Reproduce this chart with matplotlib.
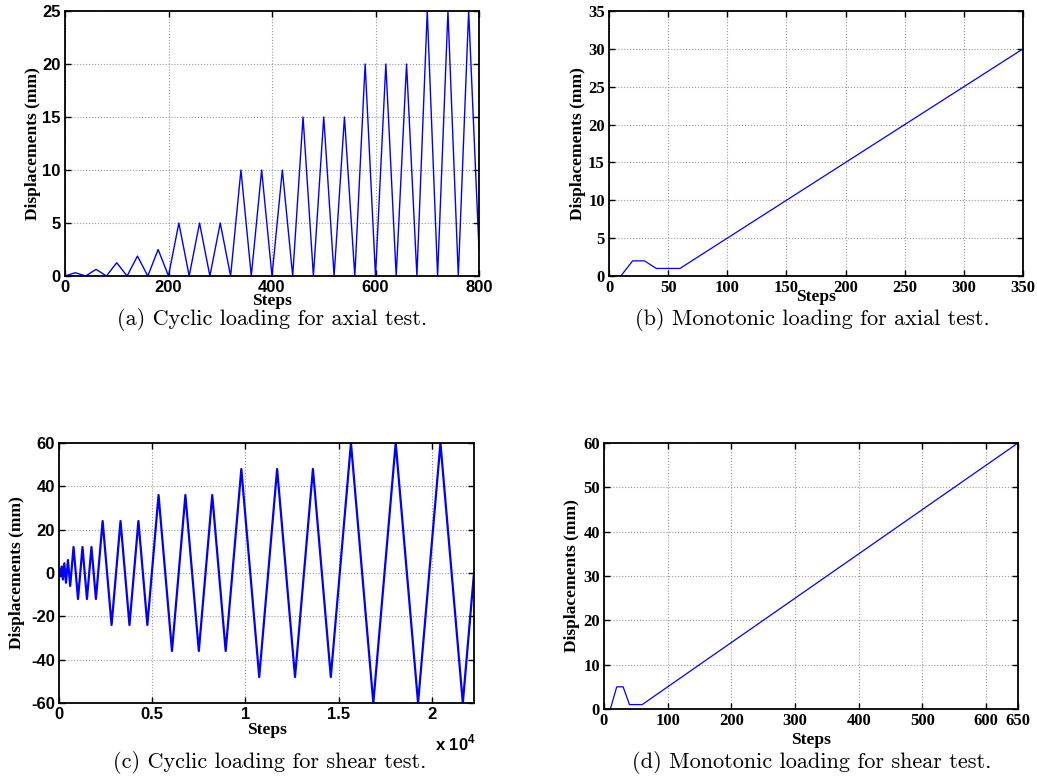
import matplotlib
matplotlib.use("Agg")
import matplotlib.pyplot as plt
from matplotlib.ticker import FuncFormatter

# (a) cyclic axial loading: peaks between returns to zero
axial_cyc_steps = [0, 20, 40, 60, 80, 100, 120, 140, 160, 180, 200, 220, 240, 260, 280,
                   300, 320, 340, 360, 380, 400, 420, 440, 460, 480, 500, 520, 540, 560,
                   580, 600, 620, 640, 660, 680, 700, 720, 740, 760, 780, 800]
axial_cyc_disp = [0, 0.31, 0, 0.63, 0, 1.25, 0, 1.88, 0, 2.5, 0, 5, 0, 5, 0,
                  5, 0, 10, 0, 10, 0, 10, 0, 15, 0, 15, 0, 15, 0,
                  20, 0, 20, 0, 20, 0, 25, 0, 25, 0, 25, 2.5]

# (b) monotonic axial loading
axial_mono_steps = [0, 10, 20, 30, 40, 60, 350]
axial_mono_disp = [0, 0, 2, 2, 1, 1, 30]

# (c) cyclic shear loading (turning points)
shear_cyc_steps = [0, 15, 45, 75, 105, 150, 210, 285, 375, 480, 600,
                   780, 1020, 1260, 1500, 1740, 1980,
                   2340, 2820, 3300, 3780, 4260, 4740,
                   5340, 6060, 6780, 7500, 8220, 8940,
                   9780, 10740, 11700, 12660, 13620, 14580,
                   15660, 16860, 18060, 19260, 20460, 21660, 22260]
shear_cyc_disp = [0, 1.5, -1.5, 1.5, -1.5, 3, -3, 4.5, -4.5, 6, -6,
                  12, -12, 12, -12, 12, -12,
                  24, -24, 24, -24, 24, -24,
                  36, -36, 36, -36, 36, -36,
                  48, -48, 48, -48, 48, -48,
                  60, -60, 60, -60, 60, -60, 0]

# (d) monotonic shear loading
shear_mono_steps = [0, 10, 20, 30, 40, 60, 650]
shear_mono_disp = [0, 0, 5, 5, 1, 1, 60]

captions = [
    "(a) Cyclic loading for axial test.",
    "(b) Monotonic loading for axial test.",
    "(c) Cyclic loading for shear test.",
    "(d) Monotonic loading for shear test.",
]

plt.rcParams['axes.unicode_minus'] = False
plt.rcParams['mathtext.fontset'] = 'custom'
plt.rcParams['mathtext.rm'] = 'Liberation Sans'
plt.rcParams['mathtext.bf'] = 'Liberation Sans:bold'

W, H = 1037, 782
fig = plt.figure(figsize=(W / 100, H / 100), dpi=100)


def px_axes(left, top, right, bottom):
    """Axes from pixel box (origin at top-left of the image)."""
    return fig.add_axes([left / W, 1 - bottom / H, (right - left) / W, (bottom - top) / H])


def style(ax, tick_family):
    ax.grid(True, linestyle=':', color='#999999', linewidth=0.8)
    ax.tick_params(direction='in', top=True, right=True, length=4, width=1, pad=3)
    for sp in ax.spines.values():
        sp.set_linewidth(1.3)
    for lab in ax.get_xticklabels() + ax.get_yticklabels():
        lab.set_fontfamily(tick_family)
        lab.set_fontweight('bold')
        lab.set_fontsize(12)


def labels(ax, ylab_x, xlab_y):
    ax.set_ylabel("Displacements (mm)", family='Liberation Serif', weight='bold',
                  fontsize=12.5, va='center')
    ax.yaxis.set_label_coords(ylab_x, 0.5)
    ax.set_xlabel("Steps", family='Liberation Serif', weight='bold', fontsize=12.5, va='center')
    ax.xaxis.set_label_coords(0.5, xlab_y)


# (a)
ax1 = px_axes(65, 11, 479, 276)
ax1.plot(axial_cyc_steps, axial_cyc_disp, color='blue', linewidth=1.0)
ax1.set_xlim(0, 800)
ax1.set_ylim(0, 25)
ax1.set_xticks([0, 200, 400, 600, 800])
ax1.set_yticks([0, 5, 10, 15, 20, 25])
style(ax1, 'Liberation Sans')
labels(ax1, -0.077, -0.095)

# (b)
ax2 = px_axes(609, 11, 1023, 276)
ax2.plot(axial_mono_steps, axial_mono_disp, color='blue', linewidth=0.9)
ax2.set_xlim(0, 350)
ax2.set_ylim(0, 35)
ax2.set_xticks(range(0, 351, 50))
ax2.set_yticks(range(0, 36, 5))
style(ax2, 'Liberation Serif')
labels(ax2, -0.075, -0.08)

# (c)
ax3 = px_axes(59, 443, 474, 703)
ax3.plot(shear_cyc_steps, shear_cyc_disp, color='blue', linewidth=1.6)
ax3.set_xlim(0, 22260)
ax3.set_ylim(-60, 60)
ax3.set_xticks([0, 5000, 10000, 15000, 20000])
ax3.xaxis.set_major_formatter(FuncFormatter(lambda v, p: f"{v / 1e4:g}"))
ax3.set_yticks(range(-60, 61, 20))
style(ax3, 'Liberation Sans')
labels(ax3, -0.102, -0.105)
ax3.text(0.955, -0.155, r"x 10$^{\mathbf{4}}$", transform=ax3.transAxes,
         family='Liberation Sans', weight='bold', fontsize=12, ha='center', va='center')

# (d)
ax4 = px_axes(604, 443, 1018, 709)
ax4.plot(shear_mono_steps, shear_mono_disp, color='blue', linewidth=0.9)
ax4.set_xlim(0, 650)
ax4.set_ylim(0, 60)
ax4.set_xticks([0, 100, 200, 300, 400, 500, 600, 650])
ax4.set_yticks(range(0, 61, 10))
style(ax4, 'Liberation Serif')
labels(ax4, -0.077, -0.115)

# captions below each panel
for (cx, cy), txt in zip([(272, 320), (812, 320), (270, 763), (812, 763)], captions):
    fig.text(cx / W, 1 - cy / H, txt, family='cmr10', fontsize=16, ha='center', va='center')

fig.savefig("out.png", dpi=100)
